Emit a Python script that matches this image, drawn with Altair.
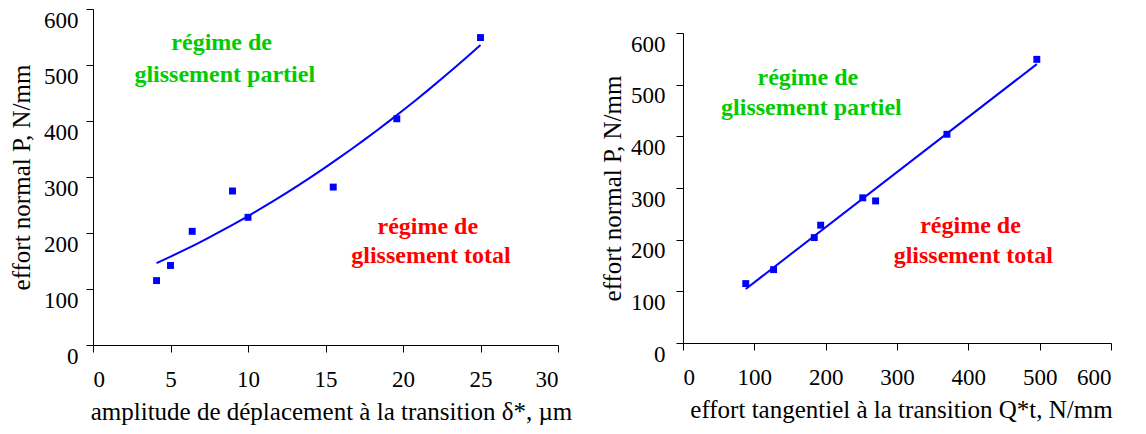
import altair as alt
import pandas as pd

# ---- data ----
delta_um = [4.1, 5.0, 6.4, 9.0, 10.0, 15.5, 19.6, 25.0]
p_left = [115, 142, 203, 275, 228, 282, 404, 549]

qt_nmm = [88, 127, 184, 193, 252, 270, 370, 496]
p_right = [115, 142, 204, 228, 281, 275, 404, 549]

x_ticks_left = [0, 5, 10, 15, 20, 25, 30]
x_ticks_right = [0, 100, 200, 300, 400, 500, 600]
y_ticks = [0, 100, 200, 300, 400, 500, 600]

ann_text = ["régime de", "glissement partiel", "régime de", "glissement total"]
ann_color = ["#00CC00", "#00CC00", "#FF0000", "#FF0000"]
left_ann_x = [8.3, 8.5, 21.6, 21.8]
left_ann_y = [539, 482, 211, 159]
right_ann_x = [175, 180, 403, 407]
right_ann_y = [513, 455, 226, 168]

FONT = "Liberation Serif"
BLUE = "#0000FF"

left_df = pd.DataFrame({"x": delta_um, "y": p_left})
right_df = pd.DataFrame({"x": qt_nmm, "y": p_right})
left_ann = pd.DataFrame({"x": left_ann_x, "y": left_ann_y, "t": ann_text, "c": ann_color})
right_ann = pd.DataFrame({"x": right_ann_x, "y": right_ann_y, "t": ann_text, "c": ann_color})


def panel(df, ann, xdomain, xticks, xtitle, titlex, width, height, yrange,
          method, ylabpad, ytitlepad):
    xs = alt.Scale(domain=xdomain, nice=False, zero=False)
    ys = alt.Scale(domain=[0, 600], nice=False, range=yrange)
    xax = alt.Axis(values=xticks, title=xtitle, titleX=titlex)
    yax = alt.Axis(values=y_ticks, title="effort normal P, N/mm",
                   labelPadding=ylabpad, titlePadding=ytitlepad)
    base = alt.Chart(df)
    pts = base.mark_square(size=48, color=BLUE, opacity=1).encode(
        x=alt.X("x:Q", scale=xs, axis=xax),
        y=alt.Y("y:Q", scale=ys, axis=yax),
    )
    if method == "poly":
        reg = base.transform_regression("x", "y", method="poly", order=2)
    else:
        reg = base.transform_regression("x", "y", method="linear")
    line = reg.mark_line(color=BLUE, strokeWidth=2).encode(
        x=alt.X("x:Q", scale=xs),
        y=alt.Y("y:Q", scale=ys),
    )
    txt = alt.Chart(ann).mark_text(
        font=FONT, fontSize=24, fontWeight="bold", align="center", baseline="middle"
    ).encode(
        x=alt.X("x:Q", scale=xs),
        y=alt.Y("y:Q", scale=ys),
        text="t:N",
        color=alt.Color("c:N", scale=None),
    )
    return alt.layer(line, pts, txt).properties(width=width, height=height)


left = panel(left_df, left_ann, [0, 30], x_ticks_left,
             "amplitude de déplacement à la transition δ*, µm", 238,
             465, 336, [336, 0], "poly", 8, 9)
right = panel(right_df, right_ann, [0, 600], x_ticks_right,
              "effort tangentiel à la transition Q*t, N/mm", 218,
              428, 334, [334, 24], "linear", 11, 5)

chart = alt.HConcatChart(
    hconcat=[left, right], spacing=125, bounds="flush",
    padding={"left": 1, "top": 0, "right": 5, "bottom": 0},
).configure_axis(
    grid=False,
    domainColor="black",
    tickColor="black",
    labelColor="black",
    titleColor="black",
    labelFont=FONT,
    titleFont=FONT,
    labelFontSize=23,
    titleFontSize=25,
    titleFontWeight="normal",
    tickSize=7,
).configure_axisX(
    labelPadding=16,
    titlePadding=8,
).configure_axisY(
    labelBaseline="top",
).configure_view(
    stroke="transparent"
)

chart.save("out.html", embed_options={"renderer": "svg", "actions": False})
